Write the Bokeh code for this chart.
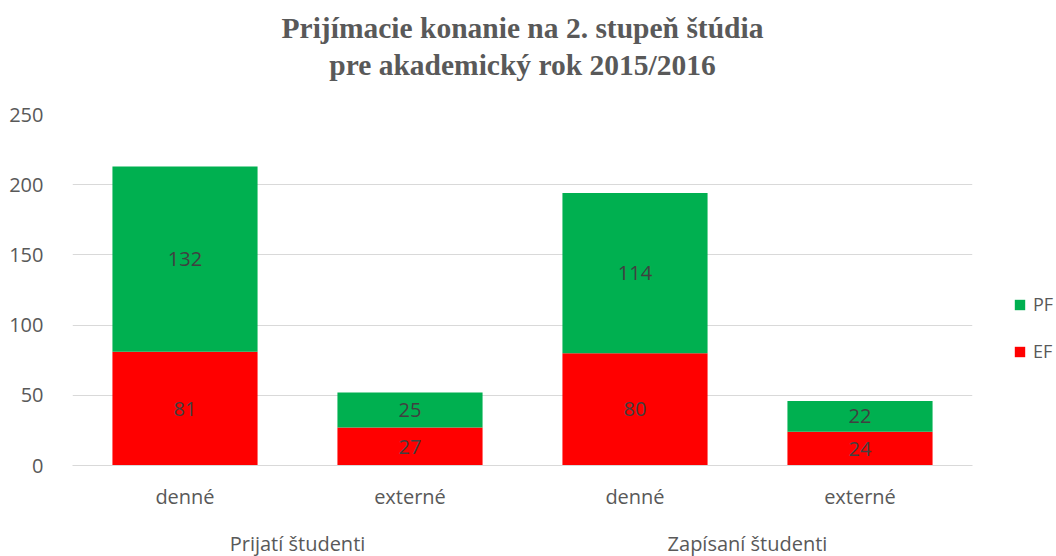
from bokeh.plotting import figure
from bokeh.models import (FactorRange, ColumnDataSource, Legend, LegendItem,
                          Range1d, Title, LabelSet, SingleIntervalTicker)
from bokeh.core.properties import value
from bokeh.embed import file_html
from bokeh.resources import INLINE

groups = ["Prijatí študenti", "Zapísaní študenti"]
types = ["denné", "externé"]
ef = [81, 27, 80, 24]
pf = [132, 25, 114, 22]
series = ["EF", "PF"]
colors = ["#FF0000", "#00B050"]
title_lines = ["Prijímacie konanie na 2. stupeň štúdia",
               "pre akademický rok 2015/2016"]

factors = [(g, t) for g in groups for t in types]

SANS = "Open Sans"
GRAY = "#595959"

p = figure(x_range=FactorRange(*factors, range_padding=0, factor_padding=0,
                               group_padding=0),
           y_range=Range1d(0, 250),
           frame_width=900, frame_height=351,
           output_backend="svg", toolbar_location=None,
           min_border_left=72, min_border_right=84, min_border_top=0,
           min_border_bottom=0, title=None)


def spacer(gap):
    return Title(text=" ", text_font_size="1px", standoff=gap)


def title_line(text, gap):
    return Title(text=text, align="center", offset=-5, text_font="Liberation Serif",
                 text_font_style="bold", text_font_size="29.5px", text_color=GRAY,
                 standoff=gap)


# stacked outwards from the frame
p.add_layout(spacer(31), "above")
p.add_layout(title_line(title_lines[1], 0), "above")
p.add_layout(title_line(title_lines[0], 6), "above")
p.add_layout(spacer(3), "above")

src = ColumnDataSource(dict(x=factors, EF=ef, PF=pf,
                            ef_mid=[v / 2 for v in ef],
                            pf_mid=[e + v / 2 for e, v in zip(ef, pf)],
                            ef_txt=[str(v) for v in ef],
                            pf_txt=[str(v) for v in pf]))

rs = p.vbar_stack(series, x="x", width=0.645, color=colors, line_color=None, source=src)

for ycol, tcol in (("ef_mid", "ef_txt"), ("pf_mid", "pf_txt")):
    p.add_layout(LabelSet(x="x", y=ycol, text=tcol, source=src, text_align="center",
                          text_baseline="middle", text_font=value(SANS),
                          text_font_size="20px", text_color="#404040"))

p.outline_line_color = None
p.xgrid.grid_line_color = None
p.ygrid.grid_line_color = "#d9d9d9"
p.ygrid.grid_line_width = 1

ya = p.yaxis[0]
ya.ticker = SingleIntervalTicker(interval=50)
ya.axis_line_color = None
ya.major_tick_line_color = None
ya.minor_tick_line_color = None
ya.major_tick_out = 0
ya.major_label_standoff = 25
ya.major_label_text_font = SANS
ya.major_label_text_font_size = "20px"
ya.major_label_text_color = GRAY

xa = p.xaxis[0]
xa.axis_line_color = "#d9d9d9"
xa.major_tick_line_color = None
xa.major_tick_out = 0
xa.major_label_standoff = 17
xa.major_label_text_font = SANS
xa.major_label_text_font_size = "20px"
xa.major_label_text_color = GRAY
xa.major_label_text_line_height = 0.7
xa.group_text_font = SANS
xa.group_text_font_size = "20px"
xa.group_text_color = GRAY
xa.group_text_font_style = "normal"
xa.group_text_line_height = 0.7
xa.separator_line_alpha = 0

legend = Legend(items=[LegendItem(label="PF", renderers=[rs[1]]),
                       LegendItem(label="EF", renderers=[rs[0]])],
                location=(41, 102), margin=0, padding=0, border_line_color=None,
                background_fill_alpha=0, glyph_width=13, glyph_height=13,
                label_height=20, spacing=23, label_standoff=7,
                label_text_font=SANS, label_text_font_size="18px",
                label_text_color=GRAY)
p.add_layout(legend, "right")

open("out.html", "w").write(file_html(p, INLINE))
